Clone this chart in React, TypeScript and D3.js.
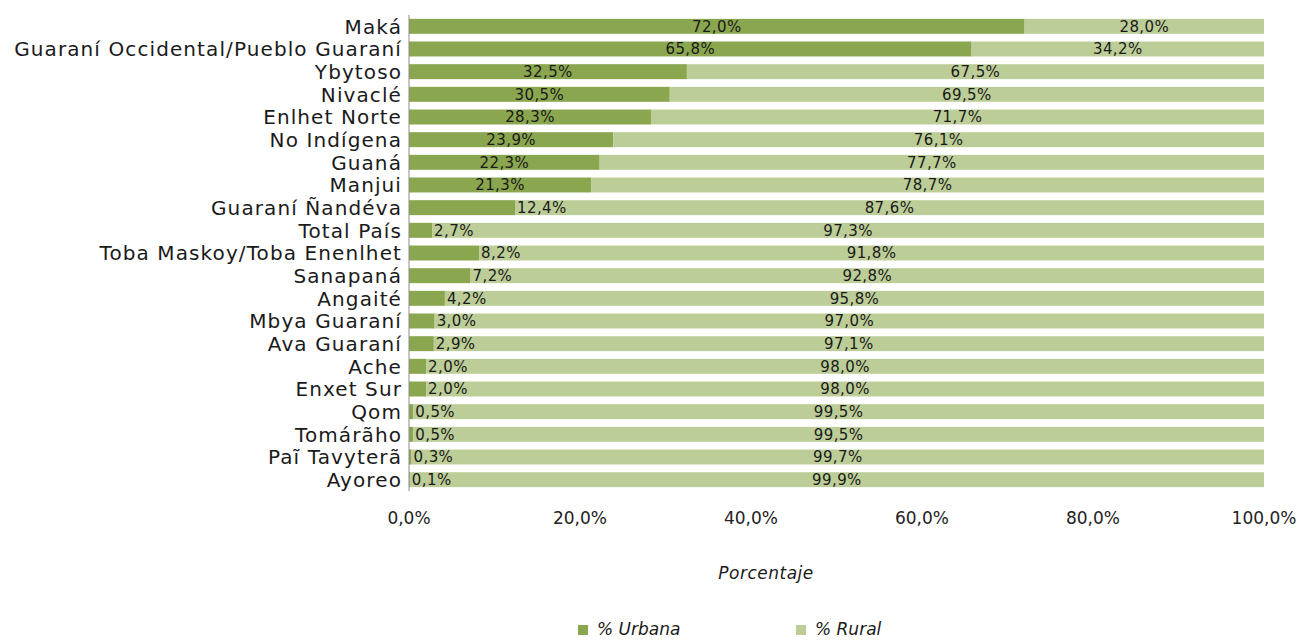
import React from "react";
import * as d3 from "d3";

const categories = [
  "Maká",
  "Guaraní Occidental/Pueblo Guaraní",
  "Ybytoso",
  "Nivaclé",
  "Enlhet Norte",
  "No Indígena",
  "Guaná",
  "Manjui",
  "Guaraní Ñandéva",
  "Total País",
  "Toba Maskoy/Toba Enenlhet",
  "Sanapaná",
  "Angaité",
  "Mbya Guaraní ",
  "Ava Guaraní",
  "Ache",
  "Enxet Sur",
  "Qom",
  "Tomárãho",
  "Paĩ Tavyterã",
  "Ayoreo",
];
const urbana = [72.0, 65.8, 32.5, 30.5, 28.3, 23.9, 22.3, 21.3, 12.4, 2.7, 8.2, 7.2, 4.2, 3.0, 2.9, 2.0, 2.0, 0.5, 0.5, 0.3, 0.1];
const rural = [28.0, 34.2, 67.5, 69.5, 71.7, 76.1, 77.7, 78.7, 87.6, 97.3, 91.8, 92.8, 95.8, 97.0, 97.1, 98.0, 98.0, 99.5, 99.5, 99.7, 99.9];
const xTicks = [0, 20, 40, 60, 80, 100];
const seriesNames = ["% Urbana", "% Rural"];

const C_URB = "#8aa64e";
const C_RUR = "#bccd97";
const FONT = "'DejaVu Sans', 'Open Sans', sans-serif";

const fmt = (v: number) => v.toFixed(1).replace(".", ",") + "%";

export default function App() {
  const W = 1300, H = 641;
  const x = d3.scaleLinear().domain([0, 100]).range([409, 1264]);
  const y = d3.scaleBand<string>().domain(categories).range([15, 491]).paddingInner(0.34).paddingOuter(0.17);
  const bh = y.bandwidth();

  return (
    <svg width={W} height={H} style={{ position: "absolute", left: 0, top: 0, background: "#fff" }}>
      {categories.map((c, i) => {
        const y0 = y(c)!;
        const u = urbana[i], r = rural[i];
        const cy = y0 + bh / 2;
        const uEnd = x(u);
        const big = u >= 15;
        return (
          <g key={c}>
            <rect x={x(0)} y={y0} width={x(u) - x(0)} height={bh} fill={C_URB} />
            <rect x={uEnd} y={y0} width={x(u + r) - uEnd} height={bh} fill={C_RUR} />
            <text
              x={big ? (x(0) + uEnd) / 2 : uEnd + 2}
              y={cy}
              dy="0.36em"
              textAnchor={big ? "middle" : "start"}
              fontFamily={FONT}
              fontSize={15}
              letterSpacing={0.4}
              fill="#1a1a1a"
            >
              {fmt(u)}
            </text>
            <text x={(uEnd + x(u + r)) / 2} y={cy} dy="0.36em" textAnchor="middle" fontFamily={FONT} fontSize={15} letterSpacing={0.4} fill="#1a1a1a">
              {fmt(r)}
            </text>
            <text x={402} y={cy} dy="0.36em" textAnchor="end" fontFamily={FONT} fontSize={20} letterSpacing={1.1} fill="#1a1a1a">
              {c}
            </text>
          </g>
        );
      })}
      <line x1={x(0)} x2={x(0)} y1={15} y2={491} stroke="#8c8c8c" strokeWidth={1} />
      {xTicks.map((t) => (
        <text key={t} x={x(t)} y={518} dy="0.36em" textAnchor="middle" fontFamily={FONT} fontSize={17} fill="#222">
          {fmt(t)}
        </text>
      ))}
      <text x={766} y={573} dy="0.36em" textAnchor="middle" fontFamily={FONT} fontSize={17} fontStyle="italic" letterSpacing={0.5} fill="#1a1a1a">
        Porcentaje
      </text>
      {seriesNames.map((s, i) => {
        const lx = i === 0 ? 578 : 796;
        return (
          <g key={s}>
            <rect x={lx} y={625} width={10} height={10} fill={i === 0 ? C_URB : C_RUR} />
            <text x={lx + 19} y={629} dy="0.36em" fontFamily={FONT} fontSize={17} fontStyle="italic" fill="#1a1a1a">
              {s}
            </text>
          </g>
        );
      })}
    </svg>
  );
}
